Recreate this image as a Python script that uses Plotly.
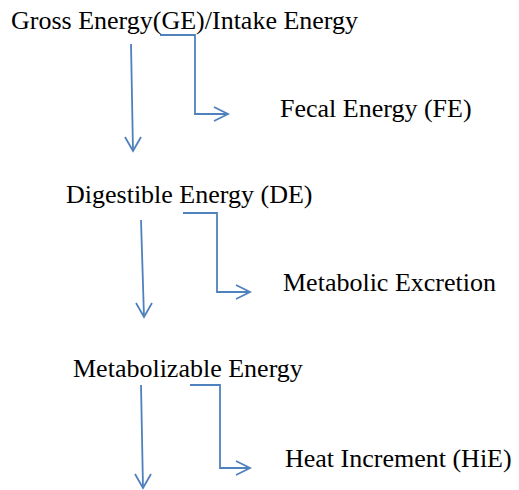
import plotly.graph_objects as go

# Diagram content
labels = ["Gross Energy(GE)/Intake Energy", "Digestible Energy (DE)", "Metabolizable Energy"]
side_labels = ["Fecal Energy (FE)", "Metabolic Excretion", "Heat Increment (HiE)"]

# layout positions (pixel-like coordinates, y downward)
label_pos = [(9, 20), (64, 194), (71, 368)]
side_pos = [(278, 108), (281, 282), (283, 458)]
down_arrows = [((131, 44), (133, 151)), ((141, 220), (144, 317)), ((141, 385), (143, 488))]
elbows = [((160, 35), 195, 114, 228), ((183, 213), 217, 292, 250), ((190, 385), 220, 468, 250)]

W, H = 519, 490
COL = "#4f81bd"
FONT = dict(family="Liberation Serif, Times New Roman, serif", size=26, color="#000000")

fig = go.Figure()
shapes = []
line = dict(color=COL, width=1.8)

for (x0, y0), (x1, y1) in down_arrows:
    shapes.append(dict(type="line", x0=x0, y0=y0, x1=x1, y1=y1, line=line))
    shapes.append(dict(type="path", path=f"M{x1-8},{y1-14} L{x1},{y1} L{x1+8},{y1-14}", line=line))

for (sx, sy), cx, by, ex in elbows:
    shapes.append(dict(type="path", path=f"M{sx},{sy} L{cx},{sy} L{cx},{by} L{ex},{by}", line=line))
    shapes.append(dict(type="path", path=f"M{ex-14},{by-7} L{ex},{by} L{ex-14},{by+7}", line=line))

annotations = []
for t, (x, y) in zip(labels + side_labels, label_pos + side_pos):
    annotations.append(dict(x=x, y=y, text=t, showarrow=False, xanchor="left", yanchor="middle",
                            font=FONT, xref="x", yref="y"))

fig.update_layout(
    width=W, height=H, margin=dict(l=0, r=0, t=0, b=0),
    paper_bgcolor="white", plot_bgcolor="white",
    xaxis=dict(range=[0, W], visible=False, fixedrange=True),
    yaxis=dict(range=[H, 0], visible=False, fixedrange=True),
    shapes=shapes, annotations=annotations, showlegend=False,
)
fig.write_html("out.html", config={"displayModeBar": False},
               post_script="document.body.style.margin='0';document.body.style.overflow='hidden';")
